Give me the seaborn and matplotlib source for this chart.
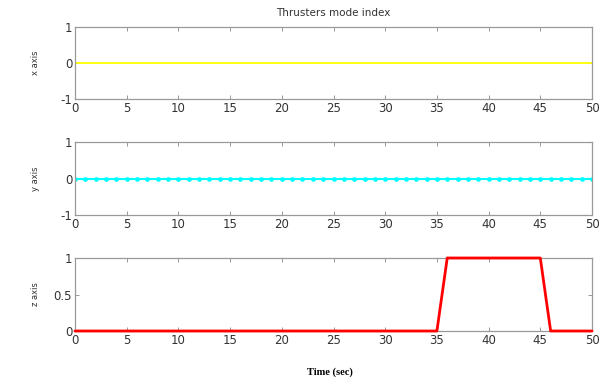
import matplotlib
matplotlib.use("Agg")
import matplotlib.pyplot as plt
import seaborn as sns
import pandas as pd

time_sec = [0, 1, 2, 3, 4, 5, 6, 7, 8, 9, 10, 11, 12, 13, 14, 15, 16, 17, 18, 19, 20,
            21, 22, 23, 24, 25, 26, 27, 28, 29, 30, 31, 32, 33, 34, 35, 36, 37, 38, 39, 40,
            41, 42, 43, 44, 45, 46, 47, 48, 49, 50]
x_mode = [0, 0, 0, 0, 0, 0, 0, 0, 0, 0, 0, 0, 0, 0, 0, 0, 0, 0, 0, 0, 0,
          0, 0, 0, 0, 0, 0, 0, 0, 0, 0, 0, 0, 0, 0, 0, 0, 0, 0, 0, 0,
          0, 0, 0, 0, 0, 0, 0, 0, 0, 0]
y_mode = [0, 0, 0, 0, 0, 0, 0, 0, 0, 0, 0, 0, 0, 0, 0, 0, 0, 0, 0, 0, 0,
          0, 0, 0, 0, 0, 0, 0, 0, 0, 0, 0, 0, 0, 0, 0, 0, 0, 0, 0, 0,
          0, 0, 0, 0, 0, 0, 0, 0, 0, 0]
z_mode = [0, 0, 0, 0, 0, 0, 0, 0, 0, 0, 0, 0, 0, 0, 0, 0, 0, 0, 0, 0, 0,
          0, 0, 0, 0, 0, 0, 0, 0, 0, 0, 0, 0, 0, 0, 0, 1, 1, 1, 1, 1,
          1, 1, 1, 1, 1, 0, 0, 0, 0, 0]
x_ticks = [0, 5, 10, 15, 20, 25, 30, 35, 40, 45, 50]
title = "Thrusters mode index"
xlabel = "Time (sec)"
ylabels = ["x axis", "y axis", "z axis"]

df = pd.DataFrame({"t": time_sec, "x": x_mode, "y": y_mode, "z": z_mode})

sns.set_style("white")
plt.rcParams["font.family"] = ["DejaVu Sans"]

fig = plt.figure(figsize=(6.08, 3.78), dpi=100)
W, H = 608, 378
left, right = 75, 592
boxes = [(27, 99), (142, 215), (258, 331)]
axes = []
for top, bot in boxes:
    ax = fig.add_axes([left / W, 1 - bot / H, (right - left) / W, (bot - top) / H])
    axes.append(ax)

sns.lineplot(data=df, x="t", y="x", ax=axes[0], color="#ffff00", linewidth=1.3)
sns.lineplot(data=df, x="t", y="y", ax=axes[1], color="#00ffff", linewidth=1.5,
             marker="o", markersize=3.4, markeredgewidth=0)
sns.lineplot(data=df, x="t", y="z", ax=axes[2], color="#ff0000", linewidth=2)
for ln in axes[2].get_lines():
    ln.set_clip_on(False)
    ln.set_zorder(5)

tick_color = "#333333"
for i, ax in enumerate(axes):
    ax.set_xlim(0, 50)
    ax.set_xticks(x_ticks)
    ax.set_xticklabels([str(v) for v in x_ticks])
    if i < 2:
        ax.set_ylim(-1, 1)
        ax.set_yticks([-1, 0, 1])
        ax.set_yticklabels(["-1", "0", "1"])
    else:
        ax.set_ylim(0, 1)
        ax.set_yticks([0, 0.5, 1])
        ax.set_yticklabels(["0", "0.5", "1"])
    ax.tick_params(direction="in", length=3, width=0.6, colors="#888888",
                   labelcolor=tick_color, labelsize=8.5, top=True, right=True,
                   bottom=True, left=True, pad=2)
    for s in ax.spines.values():
        s.set_color("#999999")
        s.set_linewidth(0.9)
    ax.set_xlabel("")
    ax.set_ylabel(ylabels[i], fontsize=6, color="#333333")
    ax.yaxis.set_label_coords((40 - left) / (right - left), 0.5)

fig.text(333 / W, 1 - 13 / H, title, ha="center", va="center",
         fontsize=7.5, color="#333333")
fig.text(330 / W, 1 - 372 / H, xlabel, ha="center", va="center",
         fontsize=7.5, fontweight="bold", family=["Liberation Serif"], color="black")

fig.savefig("out.png", dpi=100)
